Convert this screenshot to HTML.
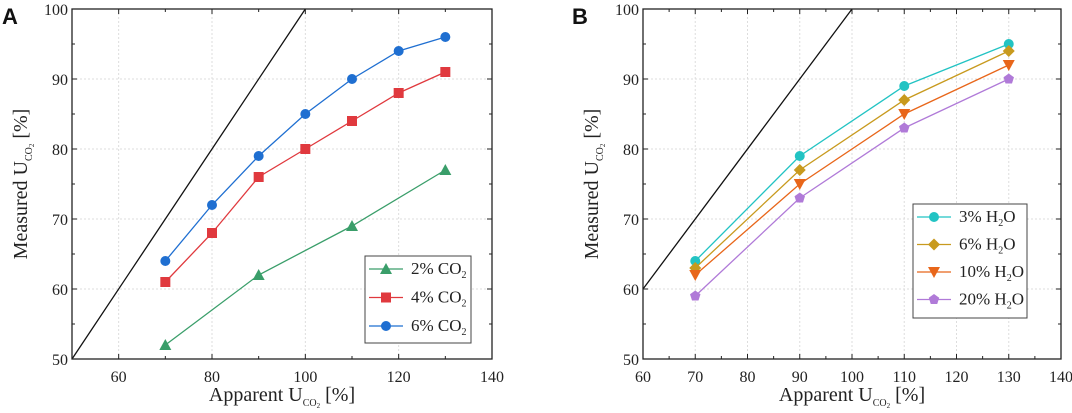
<!DOCTYPE html>
<html><head><meta charset="utf-8"><style>
body{margin:0;background:#fff}
svg{display:block;font-family:"Liberation Serif",serif}
</style></head><body>
<svg id="c" width="1072" height="413"></svg>
<script>
const aCats=["2% CO","4% CO","6% CO"];
const a2=[[70,52],[90,62],[110,69],[130,77]];
const a4=[[70,61],[80,68],[90,76],[100,80],[110,84],[120,88],[130,91]];
const a6=[[70,64],[80,72],[90,79],[100,85],[110,90],[120,94],[130,96]];
const bX=[70,90,110,130];
const b3=[64,79,89,95];
const b6=[63,77,87,94];
const b10=[62,75,85,92];
const b20=[59,73,83,90];
const aXTicks=[60,80,100,120,140];
const bXTicks=[60,70,80,90,100,110,120,130,140];
const yTicks=[50,60,70,80,90,100];
const NS="http://www.w3.org/2000/svg";
const svg=document.getElementById('c');
function el(t,a,p){const e=document.createElementNS(NS,t);for(const k in a)e.setAttribute(k,a[k]);(p||svg).appendChild(e);return e;}
function marker(g,type,x,y,c){
 let e;const s=5;
 if(type==='tri')e=el('polygon',{points:`${x},${y-s-1} ${x-s-1},${y+s} ${x+s+1},${y+s}`,fill:c},g);
 else if(type==='sq')e=el('rect',{x:x-s,y:y-s,width:2*s,height:2*s,fill:c},g);
 else if(type==='circ')e=el('circle',{cx:x,cy:y,r:s,fill:c},g);
 else if(type==='dia')e=el('polygon',{points:`${x},${y-s-1} ${x+s+1},${y} ${x},${y+s+1} ${x-s-1},${y}`,fill:c},g);
 else if(type==='dtri')e=el('polygon',{points:`${x-s-1},${y-s} ${x+s+1},${y-s} ${x},${y+s+1}`,fill:c},g);
 else {let p=[];for(let i=0;i<5;i++){const a=-Math.PI/2+i*2*Math.PI/5;p.push((x+(s+0.5)*Math.cos(a))+','+(y+(s+0.5)*Math.sin(a)));}e=el('polygon',{points:p.join(' '),fill:c},g);}
 
 
}
function panel(o){
 const g=el('g',{});
 
 
 const X=v=>o.L+(v-o.x0)/(o.x1-o.x0)*(o.R-o.L);
 const Y=v=>o.B-(v-50)/50*(o.B-o.T);
 o.xt.forEach(v=>{if(v>o.x0&&v<o.x1)el('line',{x1:X(v),x2:X(v),y1:o.T,y2:o.B,stroke:'#ddd','stroke-dasharray':'2,2'},g);});
 yTicks.forEach(v=>{if(v>50&&v<100)el('line',{x1:o.L,x2:o.R,y1:Y(v),y2:Y(v),stroke:'#ddd','stroke-dasharray':'2,2'},g);});
 for(let v=o.x0;v<=o.x1;v+=o.minor){const maj=o.xt.includes(v);const l=maj?5:3;
  el('line',{x1:X(v),x2:X(v),y1:o.B,y2:o.B-l,stroke:'#222'},g);el('line',{x1:X(v),x2:X(v),y1:o.T,y2:o.T+l,stroke:'#222'},g);}
 for(let v=50;v<=100;v+=5){const l=v%10==0?5:3;
  el('line',{x1:o.L,x2:o.L+l,y1:Y(v),y2:Y(v),stroke:'#222'},g);el('line',{x1:o.R,x2:o.R-l,y1:Y(v),y2:Y(v),stroke:'#222'},g);}
 o.xt.forEach(v=>{const t=el('text',{x:X(v),y:o.B+23,'text-anchor':'middle','font-size':16,fill:'#222'},g);t.textContent=v;});
 yTicks.forEach(v=>{const t=el('text',{x:o.L-4,y:Y(v)+6,'text-anchor':'end','font-size':16,fill:'#222'},g);t.textContent=v;});
 const ys=Math.max(50,o.x0);
 const d=el('line',{x1:X(ys),y1:Y(ys),x2:X(100),y2:Y(100),stroke:'#111','stroke-width':1.3},g);
 
 o.series.forEach(s=>{
  const pl=el('polyline',{points:s.pts.map(p=>X(p[0])+','+Y(p[1])).join(' '),fill:'none',stroke:s.c,'stroke-width':1.3},g);
  
  s.pts.forEach(p=>marker(g,s.m,X(p[0]),Y(p[1]),s.c));
 });
 el('rect',{x:o.L,y:o.T,width:o.R-o.L,height:o.B-o.T,fill:'none',stroke:'#222','stroke-width':1.3},g);
 const lg=el('g',{},g);
 el('rect',{x:o.lx,y:o.ly,width:o.lw,height:o.lh,fill:'#fff',stroke:'#444'},lg);
 o.series.forEach((s,i)=>{const yy=o.ly+13+i*o.lstep;
  el('line',{x1:o.lx+4,x2:o.lx+38,y1:yy,y2:yy,stroke:s.c,'stroke-width':1.3},lg);
  marker(lg,s.m,o.lx+21,yy,s.c);
  const t=el('text',{x:o.lx+46,y:yy+5,'font-size':17,fill:'#222'},lg);
  t.innerHTML=s.label+'<tspan font-size="10" dy="4">'+s.sub+'</tspan>'+(s.after?'<tspan dy="-4">'+s.after+'</tspan>':'');
  
 });
 const xt=el('text',{x:(o.L+o.R)/2,y:o.B+42,'text-anchor':'middle','font-size':20,fill:'#222'},g);
 xt.innerHTML='Apparent U<tspan font-size="10" dy="5">CO<tspan font-size="7" dy="2">2</tspan></tspan><tspan dy="-7"> [%]</tspan>';
 
 const cy=(o.T+o.B)/2;const tx=o.L-45;
 const yt=el('text',{x:tx,y:cy,'text-anchor':'middle','font-size':20,fill:'#222',transform:`rotate(-90 ${tx} ${cy})`},g);
 yt.innerHTML='Measured U<tspan font-size="10" dy="5">CO<tspan font-size="7" dy="2">2</tspan></tspan><tspan dy="-7"> [%]</tspan>';
 
 const pl=el('text',{x:o.px,y:24,'font-size':22,'font-weight':'bold','font-family':'Liberation Sans, sans-serif',fill:'#111'},g);
 pl.textContent=o.letter;
}
panel({name:'panel-a',letter:'A',px:2,L:72,R:492,T:9,B:359,x0:50,x1:140,minor:10,xt:aXTicks,
 lx:365,ly:256,lw:106,lh:87,lstep:28.5,
 series:[{pts:a2,c:'#3a9e6a',m:'tri',label:'2% CO',sub:'2'},{pts:a4,c:'#e0393e',m:'sq',label:'4% CO',sub:'2'},{pts:a6,c:'#1f6fd1',m:'circ',label:'6% CO',sub:'2'}]});
const bp=a=>bX.map((x,i)=>[x,a[i]]);
panel({name:'panel-b',letter:'B',px:572,L:643,R:1061,T:9,B:359,x0:60,x1:140,minor:5,xt:bXTicks,
 lx:913,ly:204,lw:114,lh:114,lstep:27.5,
 series:[{pts:bp(b3),c:'#22c3c3',m:'circ',label:'3% H',sub:'2',after:'O'},{pts:bp(b6),c:'#c89a1e',m:'dia',label:'6% H',sub:'2',after:'O'},{pts:bp(b10),c:'#e8661a',m:'dtri',label:'10% H',sub:'2',after:'O'},{pts:bp(b20),c:'#b07ad8',m:'pent',label:'20% H',sub:'2',after:'O'}]});
</script>
</body></html>
